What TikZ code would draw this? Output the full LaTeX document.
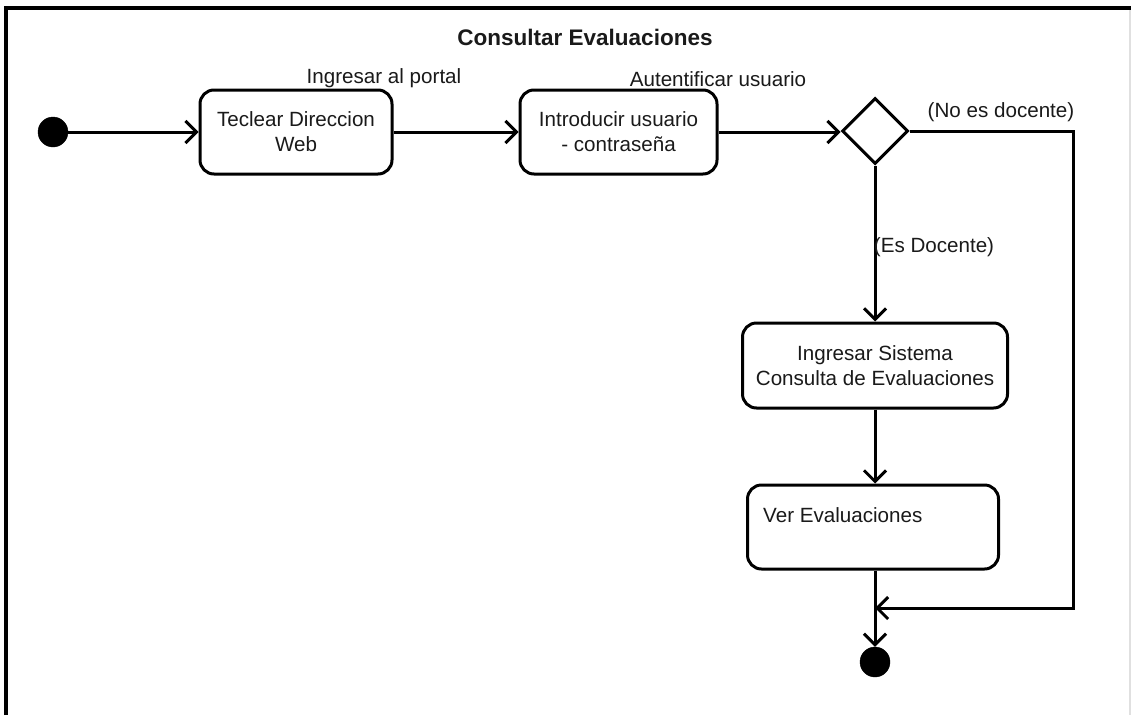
\documentclass[tikz,border=0pt]{standalone}
\usepackage{fontspec}
\setmainfont{Liberation Sans}
\usetikzlibrary{arrows.meta,shapes.geometric}
\definecolor{ink}{HTML}{1A1A1A}
\begin{document}
\begin{tikzpicture}[x=1pt,y=-1pt,
  every node/.style={font=\fontsize{20.6}{25}\selectfont, text=ink},
  act/.style={draw=black, line width=3pt, rounded corners=14pt, inner sep=0pt, align=center},
  dot/.style={circle, fill=black, draw=black, minimum size=30pt, inner sep=0pt},
  choice/.style={diamond, draw=black, line width=3pt, minimum width=66pt, minimum height=66pt, inner sep=0pt, aspect=1},
  flow/.style={line width=3pt, draw=black, -{Straight Barb[length=11pt,width=22pt,line width=3pt]}},
  lbl/.style={inner sep=1pt}]
  % page area and frame
  \useasboundingbox (0,0) rectangle (1131,715);
  \fill[white] (0,0) rectangle (1131,715);
  \draw[black, line width=4pt] (6,715) -- (6,8) -- (1131,8);
  \draw[black!12, line width=1.5pt] (1130,10) -- (1130,715);

  % title
  \node[font=\fontsize{22.5}{26}\selectfont\bfseries] (title) at (585,37) {Consultar Evaluaciones};

  % activity nodes
  \node[dot] (start) at (53,132) {};
  \node[act, minimum width=192pt, minimum height=84pt] (a1) at (296,132) {Teclear Direccion\\Web};
  \node[act, minimum width=197pt, minimum height=84pt] (a2) at (618.5,132) {Introducir usuario\\- contraseña};
  \node[choice] (dec) at (875,131) {};
  \node[act, minimum width=265pt, minimum height=85pt] (a3) at (875,365.5) {Ingresar Sistema\\Consulta de Evaluaciones};
  \node[act, minimum width=251pt, minimum height=84pt] (a4) at (873,527) {};
  \node[anchor=west, inner sep=0pt] (a4txt) at (763,515) {Ver Evaluaciones};
  \node[dot] (end) at (875,662) {};

  % routing points of the rejection branch
  \coordinate (c1) at (1073,131);
  \coordinate (c2) at (1073,608);
  \coordinate (merge) at (875,608);

  % transitions
  \draw[flow] (start) -- (a1);
  \draw[flow] (a1) -- (a2);
  \draw[flow] (a2.east) -- (a2.east -| dec.west);
  \draw[flow] (dec.south) -- (dec.south |- a3.north);
  \draw[flow] (a3.south) -- (a3.south |- a4.north);
  \draw[flow] (a3.south |- a4.south) -- (end.north);
  \draw[flow] (dec.east) -- (c1) -- (c2) -- (merge);

  % transition labels
  \node[lbl] (l1) at (384,78) {Ingresar al portal};
  \node[lbl] (l2) at (718,79) {Autentificar usuario};
  \node[lbl] (l3) at (1001,112) {(No es docente)};
  \node[lbl] (l4) at (934,247) {(Es Docente)};
\end{tikzpicture}
\end{document}
